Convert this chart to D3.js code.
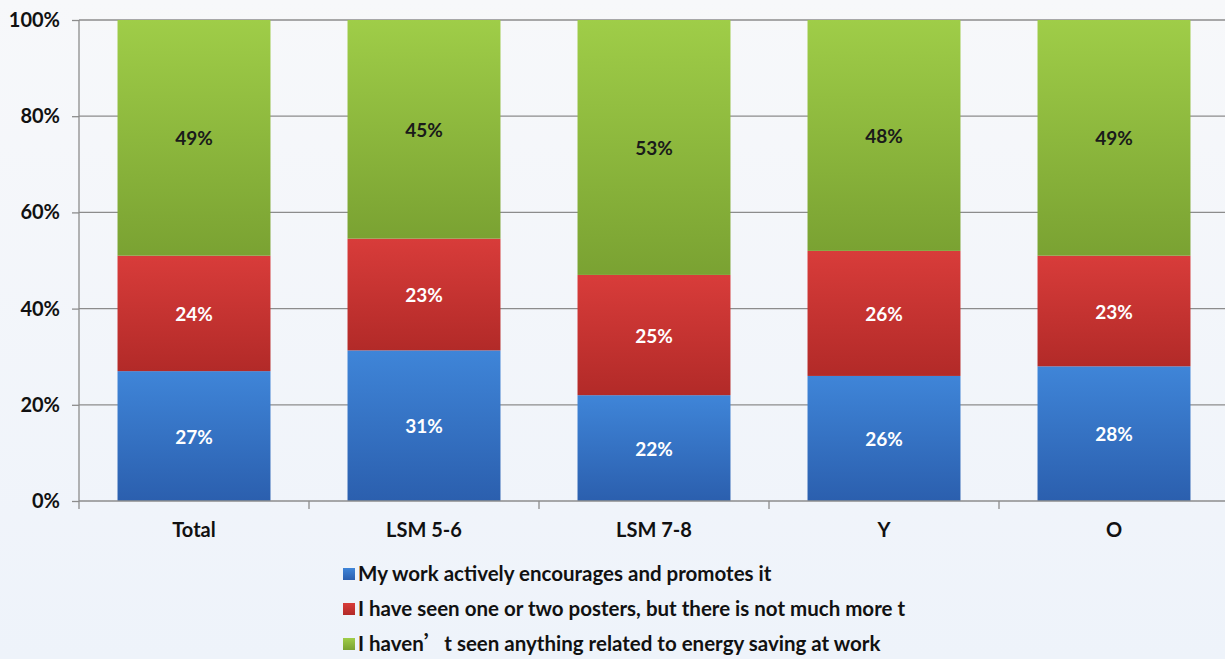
<!DOCTYPE html>
<html><head><meta charset="utf-8">
<script src="https://cdn.jsdelivr.net/npm/d3@7"></script>
<style>
html,body{margin:0;padding:0;background:#f3f6fb;}
svg{display:block;}
text{font-family:Lato,"Open Sans",sans-serif;font-weight:bold;}
</style></head>
<body>
<svg id="chart" width="1225" height="659"></svg>
<script>
const categories = ["Total","LSM 5-6","LSM 7-8","Y","O"];
const seriesNames = [
  "My work actively encourages and promotes it",
  "I have seen one or two posters, but there is not much more t",
  "I haven\u2019t seen anything related to energy saving at work"
];
const encourages = [27,31,22,26,28];
const posters = [24,23,25,26,23];
const nothing = [49,45,53,48,49];
const yTicks = [0,0.2,0.4,0.6,0.8,1];

(function(){
const colors = [
  {top:"#3f85d8", bot:"#2b5fae", text:"#ffffff"},
  {top:"#d83c3a", bot:"#b22a28", text:"#ffffff"},
  {top:"#9fcd48", bot:"#7aa232", text:"#1a1a1a"}
];

const svg = d3.select("#chart");
const defs = svg.append("defs");
const bg = defs.append("linearGradient").attr("id","bg").attr("x1",0).attr("y1",0).attr("x2",0).attr("y2",1);
bg.append("stop").attr("offset","0%").attr("stop-color","#f7f8fa");
bg.append("stop").attr("offset","100%").attr("stop-color","#eef3fa");
svg.append("rect").attr("width",1225).attr("height",659).attr("fill","url(#bg)");

colors.forEach((c,i)=>{
  const g = defs.append("linearGradient").attr("id","g"+i).attr("x1",0).attr("y1",0).attr("x2",0).attr("y2",1);
  g.append("stop").attr("offset","0%").attr("stop-color",c.top);
  g.append("stop").attr("offset","100%").attr("stop-color",c.bot);
});

const mLeft = 79, mTop = 20, mBottom = 501;
const x = d3.scaleBand().domain(categories).range([mLeft, mLeft + 5*230]).paddingInner(0.335).paddingOuter(0.1675);
const y = d3.scaleLinear().domain([0,1]).range([mBottom, mTop]);

const rows = categories.map((c,i)=>({cat:c, s0:encourages[i], s1:posters[i], s2:nothing[i]}));
const stack = d3.stack().keys(["s0","s1","s2"]).offset(d3.stackOffsetExpand);
const stacked = stack(rows);

svg.append("g").selectAll("line").data(yTicks.filter(t=>t>0)).join("line")
  .attr("x1",mLeft).attr("x2",1225).attr("y1",d=>y(d)).attr("y2",d=>y(d))
  .attr("stroke","#8c8c8c").attr("stroke-width",1.3);

stacked.forEach((layer,li)=>{
  svg.append("g").selectAll("rect").data(layer).join("rect")
    .attr("x",d=>x(d.data.cat)).attr("width",x.bandwidth())
    .attr("y",d=>y(d[1])).attr("height",d=>y(d[0])-y(d[1]))
    .attr("fill","url(#g"+li+")");
});
stacked.forEach((layer,li)=>{
  const key = ["s0","s1","s2"][li];
  svg.append("g").selectAll("text").data(layer).join("text")
    .attr("x",d=>x(d.data.cat)+x.bandwidth()/2)
    .attr("y",d=>(y(d[0])+y(d[1]))/2+1)
    .attr("dy","0.35em").attr("text-anchor","middle")
    .attr("font-size",19).attr("fill",colors[li].text)
    .text(d=>d.data[key]+"%");
});

const yAxis = d3.axisLeft(y).tickValues(yTicks).tickFormat(d3.format(".0%")).tickSize(7).tickPadding(12);
const ya = svg.append("g").attr("transform",`translate(${mLeft},0)`).call(yAxis);
ya.select(".domain").remove();
ya.selectAll(".tick line").attr("stroke","#8c8c8c").attr("stroke-width",1.3);
ya.selectAll(".tick text").attr("font-size",20).attr("fill","#111").attr("font-family","Lato,'Open Sans',sans-serif").attr("font-weight","bold");
svg.append("line").attr("x1",mLeft).attr("x2",mLeft).attr("y1",mTop).attr("y2",mBottom+8).attr("stroke","#8c8c8c").attr("stroke-width",1.3);

svg.append("line").attr("x1",mLeft).attr("x2",1225).attr("y1",mBottom).attr("y2",mBottom).attr("stroke","#8c8c8c").attr("stroke-width",1.3);
const step = x.step();
svg.append("g").selectAll("line").data(categories.slice(1)).join("line")
  .attr("x1",d=>x(d)-x.paddingInner()*step/2).attr("x2",d=>x(d)-x.paddingInner()*step/2)
  .attr("y1",mBottom).attr("y2",mBottom+8).attr("stroke","#8c8c8c").attr("stroke-width",1.3);
svg.append("g").selectAll("text").data(categories).join("text")
  .attr("x",d=>x(d)+x.bandwidth()/2).attr("y",530).attr("dy","0.35em")
  .attr("text-anchor","middle").attr("font-size",20).attr("fill","#111").text(d=>d);

const lg = svg.append("g").selectAll("g").data(seriesNames).join("g")
  .attr("transform",(d,i)=>`translate(343,${574+i*35})`);
lg.append("rect").attr("x",0).attr("y",-6).attr("width",12).attr("height",12).attr("fill",(d,i)=>"url(#g"+i+")");
lg.append("text").attr("x",15).attr("dy","0.35em").attr("font-size",20.5).attr("fill","#111")
  .each(function(d){
    const t = d3.select(this);
    const parts = d.split("\u2019");
    parts.forEach((p,k)=>{
      if(k>0) t.append("tspan").attr("font-family","'Noto Sans CJK SC'").text("\u2019");
      t.append("tspan").text(p);
    });
  });
})();
</script>
</body></html>
